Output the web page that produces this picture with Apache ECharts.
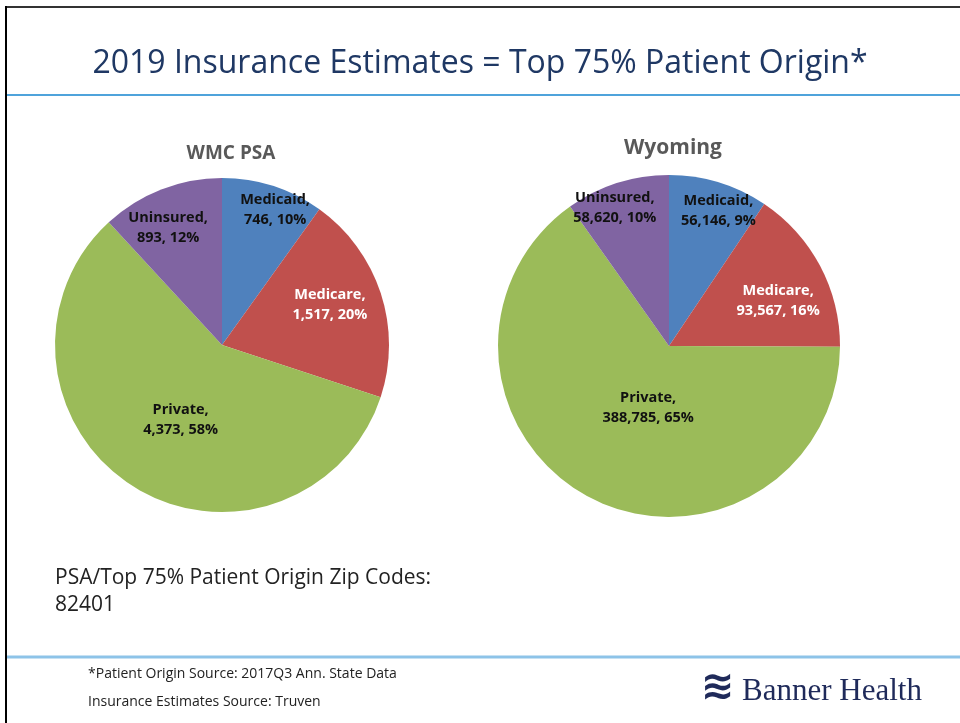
<!DOCTYPE html>
<html>
<head>
<meta charset="utf-8">
<style>
  html, body { margin: 0; padding: 0; background: #fff; }
  #main { width: 960px; height: 723px; }
</style>
<script src="https://cdn.jsdelivr.net/npm/echarts@6/dist/echarts.min.js"></script>
</head>
<body>
<div id="main"></div>
<script>
const chart = echarts.init(document.getElementById('main'));

// insurance categories, same order in both pies (clockwise from 12 o'clock)
const categories = ['Medicaid', 'Medicare', 'Private', 'Uninsured'];
const wmcValues = [746, 1517, 4373, 893];
const wyomingValues = [56146, 93567, 388785, 58620];
const pieTitles = ['WMC PSA', 'Wyoming'];

const colors = ['#4F81BD', '#C0504D', '#9BBB59', '#8064A2'];
const labelColors = ['#111', '#fff', '#111', '#111'];

// label placement: [fraction of radius, angle nudge in degrees] per slice
const wmcLabelPos = [[0.87, 3.6], [0.69, -2.5], [0.51, -3.7], [0.77, -3.4]];
const wyLabelPos = [[0.84, 3.2], [0.69, 5.6], [0.38, -8.7], [0.87, -3.7]];

const pies = [
  { values: wmcValues, center: [222, 345], radius: 167, labelPos: wmcLabelPos },
  { values: wyomingValues, center: [669, 346], radius: 171, labelPos: wyLabelPos }
];

const fmt = v => v.toLocaleString('en-US');

function makeSeries(p) {
  return {
    type: 'pie',
    center: p.center,
    radius: p.radius,
    startAngle: 90,
    clockwise: true,
    silent: true,
    itemStyle: { borderWidth: 0 },
    label: {
      show: true,
      position: 'inside',
      fontFamily: 'Open Sans',
      fontWeight: 'bold',
      fontSize: 14.5,
      lineHeight: 20,
      formatter: params => params.name + ',\n' + fmt(params.value) + ', ' + Math.round(params.percent) + '%'
    },
    labelLine: { show: false },
    labelLayout: params => {
      // take the slice direction from the default inside label, then move along it
      const r = params.labelRect;
      const vx = r.x + r.width / 2 - p.center[0];
      const vy = r.y + r.height / 2 - p.center[1];
      const lp = p.labelPos[params.dataIndex];
      const ang = Math.atan2(vx, -vy) + lp[1] * Math.PI / 180;
      const d = lp[0] * p.radius;
      return {
        x: p.center[0] + d * Math.sin(ang),
        y: p.center[1] - d * Math.cos(ang),
        align: 'center',
        verticalAlign: 'middle'
      };
    },
    data: categories.map((name, i) => ({
      name: name,
      value: p.values[i],
      itemStyle: { color: colors[i] },
      label: { color: labelColors[i] }
    }))
  };
}

const option = {
  backgroundColor: '#fff',
  animation: false,
  title: [
    {
      text: pieTitles[0], left: 226, top: 139, textAlign: 'center',
      textStyle: { fontFamily: 'Open Sans', fontWeight: 'bold', fontSize: 19, color: '#595959' }
    },
    {
      text: pieTitles[1], left: 668, top: 133, textAlign: 'center',
      textStyle: { fontFamily: 'Open Sans', fontWeight: 'bold', fontSize: 21, color: '#595959' }
    }
  ],
  series: pies.map(makeSeries),
  graphic: [
    // slide frame
    { type: 'line', shape: { x1: 6, y1: 7, x2: 960, y2: 7 }, style: { stroke: '#333', lineWidth: 2 } },
    { type: 'line', shape: { x1: 6, y1: 6, x2: 6, y2: 723 }, style: { stroke: '#000', lineWidth: 2 } },
    // header
    {
      type: 'text', left: 'center', top: 48,
      style: { text: '2019 Insurance Estimates = Top 75% Patient Origin*', fontFamily: 'Open Sans', fontSize: 32, fill: '#1F3864' }
    },
    { type: 'line', shape: { x1: 7, y1: 95, x2: 960, y2: 95 }, style: { stroke: '#4FA3DB', lineWidth: 2 } },
    // zip code note
    {
      type: 'text', left: 55, top: 565,
      style: { text: 'PSA/Top 75% Patient Origin Zip Codes:\n82401', fontFamily: 'Open Sans', fontSize: 21, lineHeight: 27, fill: '#222' }
    },
    // footer
    { type: 'line', shape: { x1: 7, y1: 657, x2: 960, y2: 657 }, style: { stroke: '#8DC3E8', lineWidth: 3 } },
    {
      type: 'text', left: 88, top: 667,
      style: { text: '*Patient Origin Source: 2017Q3 Ann. State Data', fontFamily: 'Open Sans', fontSize: 14, fill: '#222' }
    },
    {
      type: 'text', left: 88, top: 695,
      style: { text: 'Insurance Estimates Source: Truven', fontFamily: 'Open Sans', fontSize: 14, fill: '#222' }
    },
    {
      type: 'text', left: 701, top: 669,
      style: { text: '≋', fontFamily: 'DejaVu Sans', fontSize: 40, fontWeight: 'bold', fill: '#1F2A5A' }
    },
    {
      type: 'text', left: 742, top: 676,
      style: { text: 'Banner Health', fontFamily: 'Liberation Serif', fontSize: 31, fill: '#1F2A5A' }
    }
  ]
};

chart.setOption(option);

window.addEventListener('resize', () => {
  chart.resize();
});
</script>
</body>
</html>
